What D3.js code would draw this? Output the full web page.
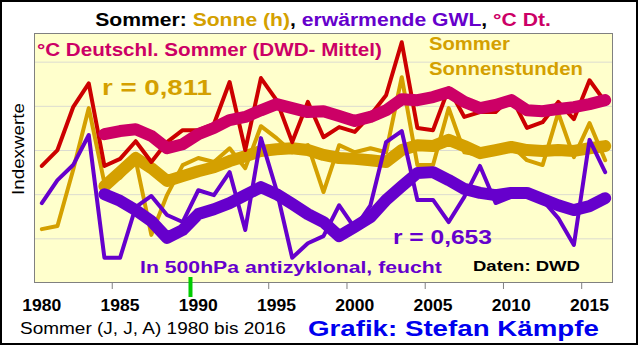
<!DOCTYPE html>
<html>
<head>
<meta charset="utf-8">
<script src="https://cdn.jsdelivr.net/npm/d3@7"></script>
<style>
  html, body { margin: 0; padding: 0; background: #fff; }
  svg { display: block; font-family: "Liberation Sans", Arial, sans-serif; }
</style>
</head>
<body>
<svg id="chart" width="640" height="346"></svg>
<script>
// Summer (JJA) index values 1980-2016
const years = d3.range(1980, 2017);
const maYears = d3.range(1984, 2017);

// °C Germany summer mean (index)
const tempDE = [2.65, 3.01, 3.98, 4.52, 2.65, 2.81, 3.21, 2.74, 3.19, 3.46,
  3.46, 3.60, 4.55, 3.01, 4.64, 4.14, 3.19, 4.10, 3.30, 3.53,
  3.42, 3.80, 4.25, 5.45, 3.51, 3.46, 4.41, 3.76, 3.87, 3.87,
  4.21, 3.51, 3.64, 4.10, 3.71, 4.59, 4.10];
// summer sunshine hours (index)
const sunHours = [1.22, 1.29, 2.56, 3.96, 2.26, 2.38, 2.78, 1.09, 1.99, 2.67,
  2.83, 2.74, 3.05, 2.60, 3.55, 3.28, 2.96, 3.12, 2.06, 3.12,
  2.96, 3.05, 2.96, 4.66, 2.67, 2.67, 3.96, 2.96, 2.90, 3.01,
  3.12, 2.78, 2.67, 3.85, 2.85, 3.62, 2.78];
// warming weather types (500 hPa anticyclonic, humid) (index)
const gwlWarm = [1.81, 2.33, 2.67, 3.35, 0.57, 0.57, 1.72, 1.97, 1.54, 1.38,
  2.10, 1.99, 2.51, 1.20, 3.28, 2.10, 0.57, 0.90, 1.06, 1.76,
  1.24, 1.76, 3.19, 3.44, 1.88, 1.88, 1.38, 1.95, 2.65, 1.81,
  1.95, 2.06, 1.88, 1.47, 0.86, 3.24, 2.51];

// smoothed curves 1984-2016
const tempMA = [3.37, 3.44, 3.48, 3.33, 3.05, 3.14, 3.37, 3.51, 3.69, 3.76,
  3.91, 4.05, 3.96, 3.87, 3.89, 3.78, 3.67, 3.76, 3.91, 4.16,
  4.14, 4.21, 4.32, 4.10, 3.96, 4.03, 4.14, 3.91, 3.89, 3.94,
  3.98, 4.05, 4.14];
const sunMA = [2.19, 2.51, 2.83, 2.60, 2.31, 2.42, 2.53, 2.62, 2.76, 2.87,
  2.99, 3.03, 3.05, 3.01, 2.90, 2.83, 2.81, 2.78, 2.74, 3.01,
  3.12, 3.10, 3.24, 3.10, 2.94, 3.01, 3.08, 3.01, 2.99, 3.01,
  2.99, 3.05, 3.10];
const gwlMA = [2.01, 1.86, 1.65, 1.40, 1.02, 1.20, 1.56, 1.67, 1.81, 1.99,
  2.17, 2.01, 1.79, 1.56, 1.38, 1.06, 1.27, 1.49, 1.88, 2.19,
  2.49, 2.51, 2.33, 2.13, 2.04, 1.99, 2.04, 2.04, 1.90, 1.76,
  1.65, 1.74, 1.92];

const gridValues = [1, 2, 3, 4, 5];
const xTickYears = [1980, 1985, 1990, 1995, 2000, 2005, 2010, 2015];
const markerYear = 1990;

const C_RED = "#cc0000", C_PINK = "#cc0066", C_GOLD = "#d4a000",
      C_PURPLE = "#6600cc", C_BLUE = "#0000ee";

const svg = d3.select("#chart");
const L = 34, R = 613, T = 33, B = 283;

const x = d3.scaleBand().domain(years).range([L, R]).padding(0);
const cx = yr => x(yr) + x.bandwidth() / 2;
const y = d3.scaleLinear().domain([0, 5.66]).range([B, T]);

// text placed at (x, y) and stretched horizontally to a given width
function fitText(parts, o) {
  const g = svg.append("g").attr("transform", `translate(${o.x},${o.y})${o.rotate ? ` rotate(${o.rotate})` : ""}`);
  const t = g.append("text").attr("font-size", o.size)
    .attr("font-weight", o.weight || "bold").attr("text-anchor", o.anchor || "start");
  if (typeof parts === "string") parts = [[parts, o.color || "#000"]];
  parts.forEach(([s, c]) => t.append("tspan").attr("fill", c).text(s));
  const w = t.node().getComputedTextLength();
  if (o.w) t.attr("transform", `scale(${o.w / w},1)`);
  return t;
}

// outer frame
svg.append("rect").attr("x", 1).attr("y", 1).attr("width", 636).attr("height", 343)
  .attr("fill", "#fff").attr("stroke", "#000").attr("stroke-width", 2);

// title
fitText([["Sommer: ", "#000"], ["Sonne (h)", C_GOLD], [", ", "#000"],
  ["erwärmende GWL", C_PURPLE], [", ", "#000"], ["°C Dt.", C_PINK]],
  { x: 323, y: 26, size: 19, w: 456, anchor: "middle" });

// plot background
svg.append("rect").attr("x", L).attr("y", T).attr("width", R - L).attr("height", B - T)
  .attr("fill", "#ffffcc");

// horizontal grid
svg.append("g").selectAll("line").data(gridValues).join("line")
  .attr("x1", L).attr("x2", R).attr("y1", d => y(d)).attr("y2", d => y(d))
  .attr("stroke", "#dcdcd0").attr("stroke-width", 1);

// plot border
svg.append("rect").attr("x", L + 0.5).attr("y", T + 0.5).attr("width", R - L - 1).attr("height", B - T - 1)
  .attr("fill", "none").attr("stroke", "#808080").attr("stroke-width", 1);

// x axis ticks and labels
svg.append("g").selectAll("line").data(xTickYears.filter(d => d > 1980)).join("line")
  .attr("x1", d => x(d)).attr("x2", d => x(d)).attr("y1", B).attr("y2", B + 6)
  .attr("stroke", "#808080").attr("stroke-width", 1);
xTickYears.forEach(yr => fitText(String(yr), { x: cx(yr), y: 311, size: 16, w: 39, anchor: "middle" }));

// 1990 marker
svg.append("line").attr("x1", x(markerYear)).attr("x2", x(markerYear))
  .attr("y1", B - 6).attr("y2", B + 14).attr("stroke", "#00cc00").attr("stroke-width", 4);

// y axis title
fitText("Indexwerte", { x: 24, y: 149, size: 16, w: 92, weight: "normal", anchor: "middle", rotate: -90 });

const line = d3.line().x(d => cx(d[0])).y(d => y(d[1])).curve(d3.curveLinear);
const plotG = svg.append("g");
function drawSeries(yrs, vals, color, width) {
  plotG.append("path").datum(yrs.map((yr, i) => [yr, vals[i]]))
    .attr("d", line).attr("fill", "none").attr("stroke", color)
    .attr("stroke-width", width).attr("stroke-linejoin", "round").attr("stroke-linecap", "round");
}
drawSeries(years, sunHours, C_GOLD, 4);
drawSeries(maYears, sunMA, C_GOLD, 12);
drawSeries(years, tempDE, C_RED, 4);
drawSeries(maYears, tempMA, C_PINK, 12);
drawSeries(years, gwlWarm, C_PURPLE, 4);
drawSeries(maYears, gwlMA, C_PURPLE, 12);

// annotations
fitText("°C Deutschl. Sommer (DWD- Mittel)", { x: 37, y: 56, size: 18, w: 345, color: C_PINK });
fitText("r = 0,811", { x: 102, y: 95, size: 22, w: 110, color: C_GOLD });
fitText("Sommer", { x: 429, y: 50, size: 18, w: 81, color: C_GOLD });
fitText("Sonnenstunden", { x: 429, y: 75, size: 18, w: 154, color: C_GOLD });
fitText("r = 0,653", { x: 393, y: 244, size: 20, w: 99, color: C_PURPLE });
fitText("In 500hPa antizyklonal, feucht", { x: 140, y: 273, size: 17, w: 302, color: C_PURPLE });
fitText("Daten: DWD", { x: 473, y: 271, size: 15, w: 107, color: "#000" });

// footer
fitText("Sommer (J, J, A) 1980 bis 2016", { x: 20, y: 334, size: 17, w: 266, weight: "normal" });
fitText("Grafik: Stefan Kämpfe", { x: 308, y: 336, size: 22, w: 291, color: C_BLUE });
</script>
</body>
</html>
